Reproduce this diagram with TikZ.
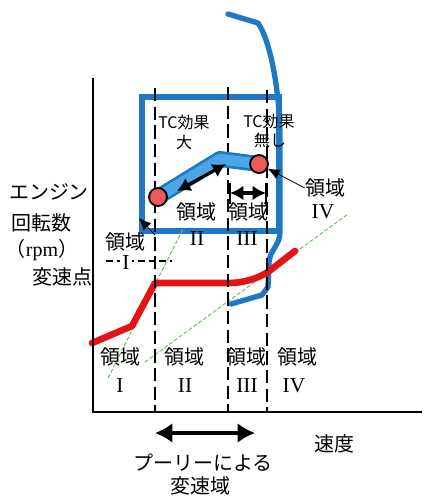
\documentclass[tikz,border=0pt]{standalone}
\usepackage{fontspec}
\setmainfont{Noto Sans CJK JP}
\newfontfamily\serifnum{Liberation Serif}
\usetikzlibrary{arrows.meta}
\definecolor{boxblue}{RGB}{30,120,195}
\definecolor{bandblue}{RGB}{75,165,230}
\definecolor{dotred}{RGB}{235,90,90}
\definecolor{linered}{RGB}{228,20,20}
\definecolor{greenl}{RGB}{100,190,90}
\begin{document}
\begin{tikzpicture}[x=0.75pt,y=-0.75pt,
  jp/.style={font=\fontsize{15}{18}\selectfont, inner sep=0pt},
  tc/.style={font=\fontsize{12}{14}\selectfont, inner sep=0pt},
  num/.style={font=\fontsize{16}{18}\selectfont\serifnum, inner sep=0pt},
  axisline/.style={line width=1.1pt},
  divline/.style={line width=1.1pt, dash pattern=on 10pt off 4pt},
  greenline/.style={greenl, line width=0.7pt, dash pattern=on 3pt off 1.5pt},
  dotnode/.style={circle, fill=dotred, draw=black, line width=1.4pt, minimum size=13.5pt, inner sep=0pt},
  bigarrow/.style={line width=3pt, {Latex[length=13pt,width=15pt]}-{Latex[length=13pt,width=15pt]}},
  midarrow/.style={line width=2.4pt, {Latex[length=10pt,width=11pt]}-{Latex[length=10pt,width=11pt]}},
  pointer/.style={line width=0.6pt, -{Latex[length=9pt,width=8pt]}}
]
\useasboundingbox (0,0) rectangle (430,497);
\fill[white] (0,0) rectangle (430,497);

% blue box and curve
\draw[boxblue, line width=3.8pt] (142,97) rectangle (279,231);
\draw[boxblue, line width=4pt, line join=round, line cap=round]
  (228,14) -- (258,23) .. controls (270,40) and (280,90) .. (280,140) -- (280,232)
  .. controls (280,245) and (270,250) .. (269,262) -- (268,287) -- (262,295) -- (231,304);

% green lines
\draw[greenline] (108,378) -- (183,229);
\draw[greenline] (145,362) -- (348,214);

% red shift-point line
\draw[linered, line width=5pt, line join=round, line cap=round]
  (92,343) -- (132,326) -- (155,283) -- (228,283)
  .. controls (245,283) and (258,278) .. (268,272) -- (295,251);

% axes
\coordinate (origin) at (93,412);
\coordinate (ytop) at (93,78);
\coordinate (xend) at (422,412);
\draw[axisline] (ytop) -- (origin) -- (xend);

% dashed region boundaries
\coordinate (d1t) at (155,88);  \coordinate (d1b) at (155,411);
\coordinate (d2t) at (228,87);  \coordinate (d2b) at (228,411);
\coordinate (d3t) at (267,90);  \coordinate (d3b) at (267,411);
\draw[divline] (d1t) -- (d1b);
\draw[divline] (d2t) -- (d2b);
\draw[divline] (d3t) -- (d3b);

% operating band
\node[dotnode, draw=none, fill=none] (dot1) at (158,197) {};
\node[dotnode, draw=none, fill=none] (dot2) at (259,164) {};
\coordinate (bandk) at (220,159);
\draw[boxblue, line width=12pt, line join=round] (dot1.center) -- (bandk) -- (dot2.center);
\draw[bandblue, line width=8pt, line join=round] (dot1.center) -- (bandk) -- (dot2.center);
\coordinate (ba1) at (177,191);
\coordinate (ba2) at (226,164);
\draw[midarrow] (ba1) -- (ba2);
\node[dotnode] (dot1b) at (dot1) {};
\node[dotnode] (dot2b) at (dot2) {};

% region III arrow
\coordinate (h1) at (230,193);
\coordinate (h2) at (266,193);
\draw[midarrow] (h1) -- (h2);
\draw[line width=2pt] (230,183) -- (230,204);
\draw[line width=2pt] (266,183) -- (266,204);

% labels in box
\node[tc] (tc1) at (184,122) {TC効果};
\node[tc] (tc1b) at (184,142) {大};
\node[tc] (tc2) at (269,121) {TC効果};
\node[tc] (tc2b) at (270,140) {無し};
\node[jp] (r2a) at (196,212) {領域};
\node[num] (r2b) at (197,239) {II};
\node[jp] (r3a) at (248,212) {領域};
\node[num] (r3b) at (247,239) {III};

% region IV label with pointer
\node[jp] (r4a) at (325,188) {領域};
\node[num] (r4b) at (323,212) {IV};
\draw[pointer] (r4a.west) -- (dot2b);

% upper region I label
\node[jp] (r1a) at (125,242) {領域};
\draw[line width=0.9pt, dash pattern=on 5pt off 3pt] (106,261) -- (172,261);
\node[num, fill=white, inner xsep=2pt] (r1b) at (126,263) {I};
\coordinate (p1t) at (155,235);
\coordinate (p1h) at (139,218);
\draw[pointer] (p1t) -- (p1h);

% y axis label
\node[jp] (ya) at (49,192) {エンジン};
\node[jp] (yb) at (42,223) {回転数};
\node[jp] (yc) at (42,250) {（{\serifnum rpm}）};
\node[jp] (yd) at (62,277) {変速点};

% bottom region labels
\node[jp] (b1a) at (120,357) {領域};
\node[num] (b1b) at (120,386) {I};
\node[jp] (b2a) at (184,357) {領域};
\node[num] (b2b) at (185,386) {II};
\node[jp] (b3a) at (246,357) {領域};
\node[num] (b3b) at (247,386) {III};
\node[jp] (b4a) at (297,357) {領域};
\node[num] (b4b) at (294,386) {IV};

% x axis and pulley range
\node[jp] (xlab) at (334,444) {速度};
\coordinate (pa1) at (155,433);
\coordinate (pa2) at (255,433);
\draw[bigarrow] (pa1) -- (pa2);
\node[jp] (pl1) at (203,463) {プーリーによる};
\node[jp] (pl2) at (200,486) {変速域};
\end{tikzpicture}
\end{document}
